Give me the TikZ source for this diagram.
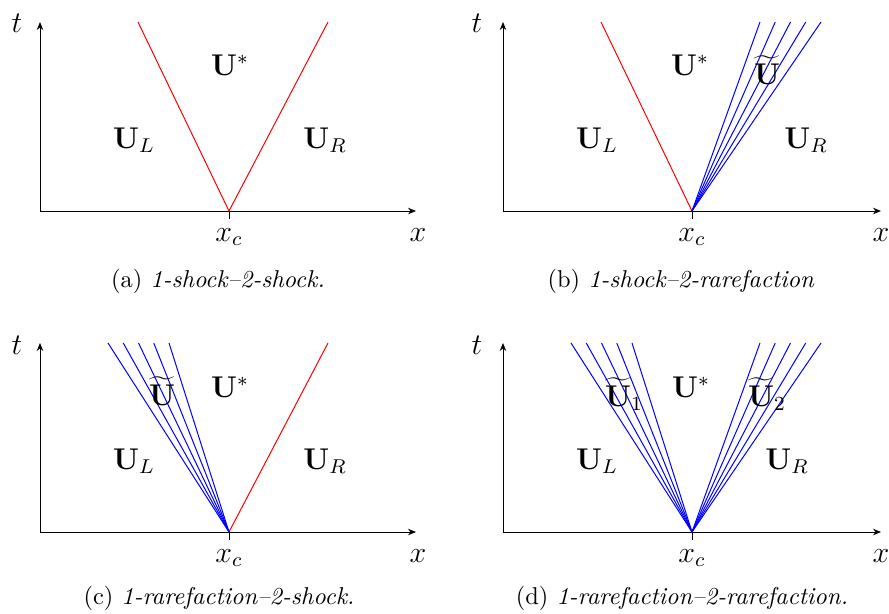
\documentclass[tikz,border=0pt]{standalone}
\usetikzlibrary{arrows.meta}
\begin{document}
\begin{tikzpicture}[x=0.4pt,y=-0.4pt,
  axis/.style={line width=0.4pt,-{Stealth[length=3.2pt,width=2.6pt]}},
  shock/.style={red,line width=0.4pt},
  rare/.style={blue,line width=0.4pt},
  lab/.style={font=\large,inner sep=0pt},
  capt/.style={font=\fontsize{9.75}{12}\selectfont,inner sep=0pt}]
\useasboundingbox (0,0) rectangle (889,614);
% ---------- panel (a)
\coordinate (Oa) at (229,211);
\coordinate (ya0) at (40,211); \coordinate (ya1) at (40,22);
\coordinate (xa1) at (416,211);
\coordinate (tka) at (229,219);
\coordinate (sal) at (138,22); \coordinate (sar) at (328,22);
\draw[axis] (ya0) -- (ya1);
\draw[axis] (ya0) -- (xa1);
\draw (Oa) -- (tka);
\draw[shock] (Oa) -- (sal);
\draw[shock] (Oa) -- (sar);
\node[lab] (ta) at (17,23) {$t$};
\node[lab] (xa) at (418,235) {$x$};
\node[lab] (xca) at (229,237) {$x_c$};
\node[lab] (usa) at (230,65) {$\mathbf{U}^{*}$};
\node[lab] (ula) at (134,140) {$\mathbf{U}_L$};
\node[lab] (ura) at (325,140) {$\mathbf{U}_R$};
\node[capt] (capa) at (218,281) {(a)\ \textit{1-shock--2-shock.}};
% ---------- panel (b)
\coordinate (Ob) at (692,211);
\coordinate (yb0) at (503,211); \coordinate (yb1) at (503,22);
\coordinate (xb1) at (881,211);
\coordinate (tkb) at (692,219);
\coordinate (sbl) at (601,22);
\draw[axis] (yb0) -- (yb1);
\draw[axis] (yb0) -- (xb1);
\draw (Ob) -- (tkb);
\draw[shock] (Ob) -- (sbl);
\foreach \e [count=\i] in {760,775.25,790.5,805.75,821}{
  \coordinate (rb\i) at (\e,22);
  \draw[rare] (Ob) -- (rb\i);
}
\node[lab] (tb) at (477,23) {$t$};
\node[lab] (xb) at (881,235) {$x$};
\node[lab] (xcb) at (692,237) {$x_c$};
\node[lab] (usb) at (690,65) {$\mathbf{U}^{*}$};
\node[lab] (utb) at (767,70) {$\widetilde{\mathbf{U}}$};
\node[lab] (ulb) at (597,140) {$\mathbf{U}_L$};
\node[lab] (urb) at (806,140) {$\mathbf{U}_R$};
\node[capt] (capb) at (681,281) {(b)\ \textit{1-shock--2-rarefaction}};
% ---------- panel (c)
\coordinate (Oc) at (229,532);
\coordinate (yc0) at (40,532); \coordinate (yc1) at (40,343);
\coordinate (xc1) at (416,532);
\coordinate (tkc) at (229,540);
\coordinate (scr) at (328,343);
\draw[axis] (yc0) -- (yc1);
\draw[axis] (yc0) -- (xc1);
\draw (Oc) -- (tkc);
\draw[shock] (Oc) -- (scr);
\foreach \e [count=\i] in {108,123.25,138.5,153.75,169}{
  \coordinate (rc\i) at (\e,343);
  \draw[rare] (Oc) -- (rc\i);
}
\node[lab] (tc) at (17,345) {$t$};
\node[lab] (xc) at (418,556) {$x$};
\node[lab] (xcc) at (229,558) {$x_c$};
\node[lab] (usc) at (230,387) {$\mathbf{U}^{*}$};
\node[lab] (utc) at (162,391) {$\widetilde{\mathbf{U}}$};
\node[lab] (ulc) at (134,461) {$\mathbf{U}_L$};
\node[lab] (urc) at (325,461) {$\mathbf{U}_R$};
\node[capt] (capc) at (219,598) {(c)\ \textit{1-rarefaction--2-shock.}};
% ---------- panel (d)
\coordinate (Od) at (692,532);
\coordinate (yd0) at (503,532); \coordinate (yd1) at (503,343);
\coordinate (xd1) at (881,532);
\coordinate (tkd) at (692,540);
\draw[axis] (yd0) -- (yd1);
\draw[axis] (yd0) -- (xd1);
\draw (Od) -- (tkd);
\foreach \e [count=\i] in {571,586.25,601.5,616.75,632}{
  \coordinate (rdl\i) at (\e,343);
  \draw[rare] (Od) -- (rdl\i);
}
\foreach \e [count=\i] in {760,775.25,790.5,805.75,821}{
  \coordinate (rdr\i) at (\e,343);
  \draw[rare] (Od) -- (rdr\i);
}
\node[lab] (td) at (477,345) {$t$};
\node[lab] (xd) at (881,556) {$x$};
\node[lab] (xcd) at (692,558) {$x_c$};
\node[lab] (usd) at (691,387) {$\mathbf{U}^{*}$};
\node[lab] (ut1) at (624,394) {$\widetilde{\mathbf{U}}_1$};
\node[lab] (ut2) at (767,394) {$\widetilde{\mathbf{U}}_2$};
\node[lab] (uld) at (597,461) {$\mathbf{U}_L$};
\node[lab] (urd) at (787,461) {$\mathbf{U}_R$};
\node[capt] (capd) at (682,598) {(d)\ \textit{1-rarefaction--2-rarefaction.}};
\end{tikzpicture}
\end{document}
